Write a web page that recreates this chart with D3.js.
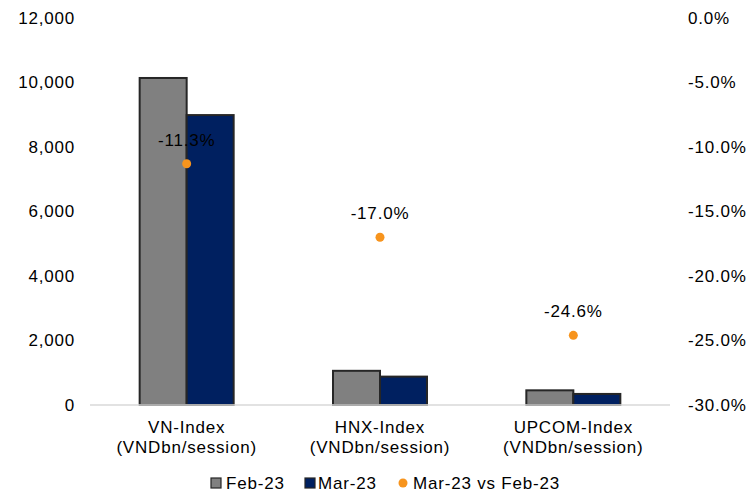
<!DOCTYPE html>
<html lang="en">
<head>
<meta charset="UTF-8">
<script src="https://cdn.jsdelivr.net/npm/d3@7"></script>
<style>
  body { margin: 0; background: #fff; }
  text { font-family: "Liberation Sans", Arial, sans-serif; fill: #000; letter-spacing: 0.8px; }
</style>
</head>
<body>
<div id="chart"></div>
<script>
// data
var categories = ["VN-Index", "HNX-Index", "UPCOM-Index"];
var unitLabel = "(VNDbn/session)";
var feb23 = [10140, 1060, 455];
var mar23 = [8990, 880, 343];
var change = [-11.3, -17.0, -24.6];
var leftTicks = [0, 2000, 4000, 6000, 8000, 10000, 12000];
var rightTicks = [0, -5, -10, -15, -20, -25, -30];
var seriesNames = ["Feb-23", "Mar-23", "Mar-23 vs Feb-23"];

var width = 746, height = 493;
var margin = {top: 18, right: 76, bottom: 88, left: 90};
var fs = "17px";

// plain hyphen for negatives, like the original
function pct(d) { return d3.format(".1f")(d).replace("\u2212", "-") + "%"; }

var svg = d3.select("#chart").append("svg")
    .attr("width", width)
    .attr("height", height);

/* scales */
var x = d3.scaleBand()
    .domain(categories)
    .range([margin.left, width - margin.right])
    .paddingInner(0).paddingOuter(0);

var xSub = d3.scaleBand()
    .domain(["feb", "mar"])
    .range([0, 94]);

var y = d3.scaleLinear()
    .domain([0, 12000])
    .range([height - margin.bottom, margin.top]);

var yr = d3.scaleLinear()
    .domain([-30, 0])
    .range([height - margin.bottom, margin.top]);

/* left axis */
var leftAxis = d3.axisLeft(y)
    .tickValues(leftTicks)
    .tickSize(0).tickPadding(15)
    .tickFormat(d3.format(","));
svg.append("g")
    .attr("transform", "translate(" + margin.left + ",0)")
    .call(leftAxis)
    .call(function(g) { g.select(".domain").remove(); })
    .selectAll("text")
    .style("font-size", fs)
    .style("font-family", "'Liberation Sans', Arial, sans-serif");

/* right axis */
var rightAxis = d3.axisRight(yr)
    .tickValues(rightTicks)
    .tickSize(0).tickPadding(18)
    .tickFormat(pct);
svg.append("g")
    .attr("transform", "translate(" + (width - margin.right) + ",0)")
    .call(rightAxis)
    .call(function(g) { g.select(".domain").remove(); })
    .selectAll("text")
    .style("font-size", fs)
    .style("font-family", "'Liberation Sans', Arial, sans-serif");

/* bars */
var rows = categories.map(function(c, i) {
    return {cat: c, feb: feb23[i], mar: mar23[i], chg: change[i]};
});

var groups = svg.selectAll(".grp")
    .data(rows)
    .enter().append("g")
    .attr("class", "grp")
    .attr("transform", function(d) {
        return "translate(" + (x(d.cat) + x.bandwidth() / 2 - 47) + ",0)";
    });

groups.append("rect")
    .attr("x", xSub("feb"))
    .attr("y", function(d) { return y(d.feb); })
    .attr("width", xSub.bandwidth())
    .attr("height", function(d) { return y(0) - y(d.feb); })
    .attr("fill", "#808080")
    .attr("stroke", "#262626")
    .attr("stroke-width", 2);

groups.append("rect")
    .attr("x", xSub("mar"))
    .attr("y", function(d) { return y(d.mar); })
    .attr("width", xSub.bandwidth())
    .attr("height", function(d) { return y(0) - y(d.mar); })
    .attr("fill", "#002060")
    .attr("stroke", "#262626")
    .attr("stroke-width", 2);

/* baseline */
svg.append("line")
    .attr("x1", margin.left).attr("x2", width - margin.right)
    .attr("y1", y(0)).attr("y2", y(0))
    .attr("stroke", "#d9d9d9")
    .attr("stroke-width", 1.5);

/* change dots + labels */
svg.selectAll(".dot")
    .data(rows)
    .enter().append("circle")
    .attr("class", "dot")
    .attr("cx", function(d) { return x(d.cat) + x.bandwidth() / 2; })
    .attr("cy", function(d) { return yr(d.chg); })
    .attr("r", 4.5)
    .attr("fill", "#f7941d");

svg.selectAll(".dlab")
    .data(rows)
    .enter().append("text")
    .attr("class", "dlab")
    .attr("x", function(d) { return x(d.cat) + x.bandwidth() / 2; })
    .attr("y", function(d) { return yr(d.chg) - 18; })
    .attr("text-anchor", "middle")
    .style("font-size", fs)
    .text(function(d) { return pct(d.chg); });

/* category labels */
var cl = svg.selectAll(".clab")
    .data(categories)
    .enter().append("text")
    .attr("class", "clab")
    .attr("text-anchor", "middle")
    .style("font-size", fs);
cl.append("tspan")
    .attr("x", function(d) { return x(d) + x.bandwidth() / 2; })
    .attr("y", 433)
    .text(function(d) { return d; });
cl.append("tspan")
    .attr("x", function(d) { return x(d) + x.bandwidth() / 2; })
    .attr("y", 453)
    .text(unitLabel);

/* legend */
var legend = svg.append("g").attr("transform", "translate(0,483)");
legend.append("rect").attr("x", 211).attr("y", -5).attr("width", 10).attr("height", 10)
    .attr("fill", "#808080").attr("stroke", "#262626").attr("stroke-width", 1.2);
legend.append("text").attr("x", 226).attr("y", 6).style("font-size", fs).text(seriesNames[0]);
legend.append("rect").attr("x", 305).attr("y", -5).attr("width", 10).attr("height", 10)
    .attr("fill", "#002060").attr("stroke", "#262626").attr("stroke-width", 1.2);
legend.append("text").attr("x", 318).attr("y", 6).style("font-size", fs).text(seriesNames[1]);
legend.append("circle").attr("cx", 403).attr("cy", 0).attr("r", 4.5).attr("fill", "#f7941d");
legend.append("text").attr("x", 413).attr("y", 6).style("font-size", fs).text(seriesNames[2]);
</script>
</body>
</html>
